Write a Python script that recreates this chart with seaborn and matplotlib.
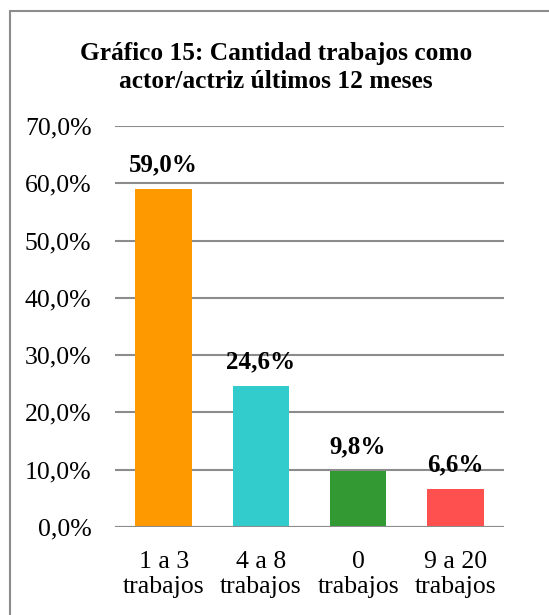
import numpy as np
import pandas as pd
import seaborn as sns
import matplotlib.pyplot as plt
from matplotlib.lines import Line2D

categorias = ["1 a 3\ntrabajos", "4 a 8\ntrabajos", "0\ntrabajos", "9 a 20\ntrabajos"]
porcentajes = [59.0, 24.6, 9.8, 6.6]
colores = ["#FF9900", "#33CCCC", "#339933", "#FF5050"]
titulo = "Gráfico 15: Cantidad trabajos como\nactor/actriz últimos 12 meses"

sns.set_theme(style="white")
plt.rcParams['font.family'] = ['Liberation Serif', 'DejaVu Serif']

df = pd.DataFrame({"cat": categorias, "val": porcentajes})

fig = plt.figure(figsize=(5.49, 6.15), dpi=100)
ax = fig.add_axes([0.2095, 0.1431, 0.7085, 0.652])

sns.barplot(data=df, x="cat", y="val", hue="cat", palette=colores,
            width=0.58, saturation=1, legend=False, linewidth=0, ax=ax)

ax.set_ylim(0, 70)
ax.set_xlim(-0.5, 3.5)
ax.set_yticks(np.arange(0, 71, 10))
ax.set_yticklabels([f"{v:.1f}%".replace(".", ",") for v in np.arange(0, 71, 10)], fontsize=18.5, color="#000000")
for lab in ax.get_xticklabels():
    lab.set_linespacing(1.2)
ax.tick_params(axis="x", labelsize=18.5, colors="#000000", pad=17, length=0)
ax.tick_params(axis="y", pad=17, length=0)
ax.set_xlabel("")
ax.set_ylabel("")
for s in ax.spines.values():
    s.set_visible(False)
ax.yaxis.grid(True, color="#8c8c8c", linewidth=1.5)
ax.set_axisbelow(True)
ax.axhline(0, color="#8c8c8c", linewidth=1.5, zorder=3)

for i, v in enumerate(porcentajes):
    ax.annotate(f"{v:.1f}%".replace(".", ","), (i, v), xytext=(0, 9),
                textcoords="offset points", ha="center", va="bottom",
                fontsize=18, fontweight="bold", color="#000000")

fig.text(0.503, 0.890, titulo, ha="center", va="center", fontsize=18.3,
         fontweight="bold", linespacing=1.25, color="#000000")

# borde del gráfico
fig.add_artist(Line2D([10 / 549, 10 / 549], [1 - 11 / 615, 0], color="#8c8c8c", linewidth=1.5))
fig.add_artist(Line2D([10 / 549, 1], [1 - 11 / 615, 1 - 11 / 615], color="#8c8c8c", linewidth=1.5))

fig.savefig("out.png", dpi=100, facecolor="white")
